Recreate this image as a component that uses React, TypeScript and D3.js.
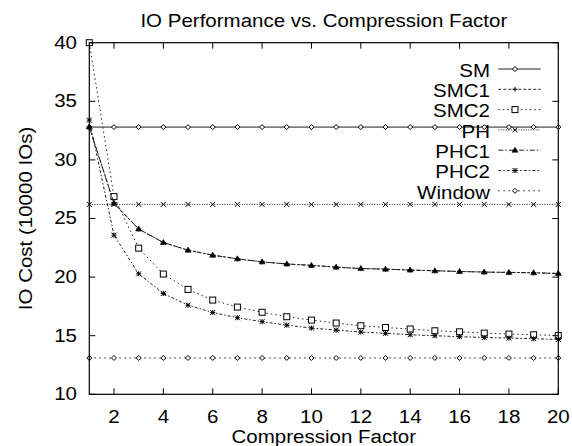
import React from "react";
import * as d3 from "d3";

const xs = [1, 2, 3, 4, 5, 6, 7, 8, 9, 10, 11, 12, 13, 14, 15, 16, 17, 18, 19, 20];
const smValues = xs.map(() => 32.8);
const smc1Values = [32.8, 26.3, 24.1, 22.95, 22.3, 21.87, 21.56, 21.3, 21.12, 21.0, 20.85, 20.73, 20.68, 20.6, 20.54, 20.48, 20.43, 20.4, 20.37, 20.31];
const smc2Values = [40.0, 26.87, 22.47, 20.26, 18.95, 18.04, 17.44, 17.0, 16.62, 16.33, 16.08, 15.85, 15.7, 15.57, 15.42, 15.33, 15.22, 15.14, 15.08, 15.02];
const phValues = xs.map(() => 26.2);
const phc1Values = [32.8, 26.3, 24.1, 22.95, 22.3, 21.87, 21.56, 21.3, 21.12, 21.0, 20.85, 20.73, 20.68, 20.6, 20.54, 20.48, 20.43, 20.4, 20.37, 20.31];
const phc2Values = [33.4, 23.58, 20.28, 18.6, 17.6, 16.98, 16.53, 16.2, 15.9, 15.65, 15.48, 15.31, 15.2, 15.08, 15.0, 14.91, 14.85, 14.8, 14.74, 14.68];
const windowValues = xs.map(() => 13.1);

const xTicks = [2, 4, 6, 8, 10, 12, 14, 16, 18, 20];
const yTicks = [10, 15, 20, 25, 30, 35, 40];

const seriesNames = ["SM", "SMC1", "SMC2", "PH", "PHC1", "PHC2", "Window"];
const seriesValues = [smValues, smc1Values, smc2Values, phValues, phc1Values, phc2Values, windowValues];
const seriesMarkers = ["diamond", "plus", "square", "cross", "triangle", "star", "diamond"];
const seriesDash = ["", "3,2", "1.5,3", "1,1.5", "5,2,1.5,2", "3,2,1.5,2", "1.5,3.5"];

const W = 572, H = 446;
const L = 89.3, R = 558.3, T = 42.7, B = 394.3;
const FS = 20.5;
const SY = 0.9;

function Txt({ x, y, anchor, rotate, children }: { x: number; y: number; anchor: string; rotate?: number; children: React.ReactNode }) {
  return (
    <text transform={`translate(${x},${y})${rotate ? ` rotate(${rotate})` : ""} scale(1,${SY})`} fontSize={FS} textAnchor={anchor} fill="#000">
      {children}
    </text>
  );
}

function Marker({ type, x, y }: { type: string; x: number; y: number }) {
  const s = 2.5;
  const st = { stroke: "#000", strokeWidth: 1, fill: "none" };
  switch (type) {
    case "diamond":
      return <path d={`M${x},${y - s}L${x + s},${y}L${x},${y + s}L${x - s},${y}Z`} {...st} fill="#fff" />;
    case "plus":
      return <path d={`M${x - s},${y}H${x + s}M${x},${y - s}V${y + s}`} {...st} />;
    case "square":
      return <rect x={x - 3} y={y - 3} width={6} height={6} {...st} fill="#fff" />;
    case "cross":
      return <path d={`M${x - s},${y - s}L${x + s},${y + s}M${x - s},${y + s}L${x + s},${y - s}`} {...st} />;
    case "triangle":
      return <path d={`M${x},${y - 3}L${x + 3},${y + 2}L${x - 3},${y + 2}Z`} stroke="#000" fill="#000" strokeWidth={0.6} />;
    case "star":
      return <path d={`M${x - s},${y}H${x + s}M${x},${y - s}V${y + s}M${x - s},${y - s}L${x + s},${y + s}M${x - s},${y + s}L${x + s},${y - s}`} {...st} />;
  }
  return null;
}

export default function App() {
  const x = d3.scaleLinear().domain([1, 20]).range([L, R]);
  const y = d3.scaleLinear().domain([10, 40]).range([B, T]);
  const line = d3.line<number>().x((_, i) => x(xs[i])).y((d) => y(d));
  const font = "'Liberation Sans', Arial, sans-serif";
  const legendX1 = 498.3, legendX2 = 540.7, legendTextX = 490;
  const legendBase0 = 76.7, legendDy = 20.3;

  return (
    <svg width={W} height={H} style={{ position: "absolute", left: 0, top: 0, background: "#fff" }} fontFamily={font}>
      <rect x={0} y={0} width={W} height={H} fill="#fff" />
      <Txt x={(L + R) / 2} y={26.7} anchor="middle">IO Performance vs. Compression Factor</Txt>
      {seriesValues.map((vals, si) => (
        <g key={si}>
          <path d={line(vals) || ""} fill="none" stroke="#222" strokeWidth={1} strokeDasharray={seriesDash[si]} />
          {vals.map((v, i) => (
            <Marker key={i} type={seriesMarkers[si]} x={x(xs[i])} y={y(v)} />
          ))}
        </g>
      ))}
      <rect x={L} y={T} width={R - L} height={B - T} fill="none" stroke="#000" strokeWidth={1.2} />
      {xTicks.map((t) => (
        <g key={"x" + t}>
          <line x1={x(t)} x2={x(t)} y1={B} y2={B - 6} stroke="#000" />
          <line x1={x(t)} x2={x(t)} y1={T} y2={T + 6} stroke="#000" />
          <Txt x={x(t)} y={422.7} anchor="middle">{t}</Txt>
        </g>
      ))}
      {yTicks.map((t) => (
        <g key={"y" + t}>
          <line x1={L} x2={L + 6} y1={y(t)} y2={y(t)} stroke="#000" />
          <line x1={R} x2={R - 6} y1={y(t)} y2={y(t)} stroke="#000" />
          <Txt x={77} y={y(t) + 5.8} anchor="end">{t}</Txt>
        </g>
      ))}
      <Txt x={(L + R) / 2} y={443.3} anchor="middle">Compression Factor</Txt>
      <Txt x={31.5} y={(T + B) / 2} anchor="middle" rotate={-90}>IO Cost (10000 IOs)</Txt>
      {seriesNames.map((n, i) => {
        const base = legendBase0 + i * legendDy;
        const ly = base - 7.7;
        return (
          <g key={n}>
            <Txt x={legendTextX} y={base} anchor="end">{n}</Txt>
            <line x1={legendX1} x2={legendX2} y1={ly} y2={ly} stroke="#222" strokeDasharray={seriesDash[i]} />
            <Marker type={seriesMarkers[i]} x={515} y={ly} />
          </g>
        );
      })}
    </svg>
  );
}
